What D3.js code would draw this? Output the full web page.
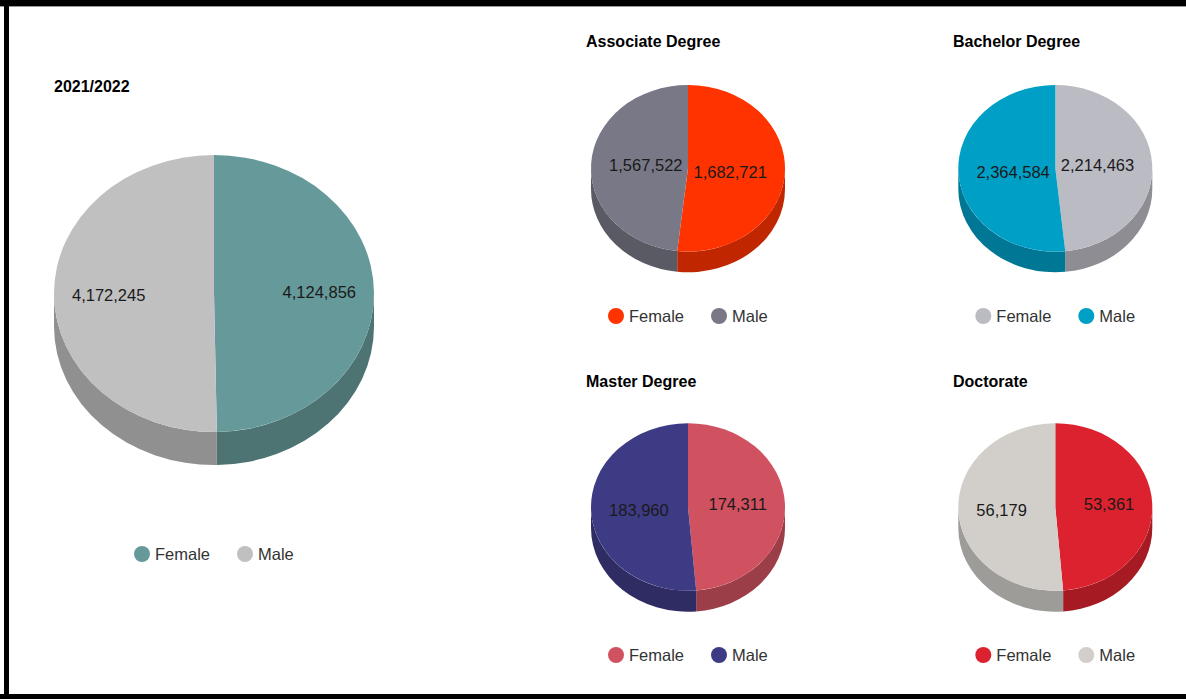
<!DOCTYPE html>
<html>
<head>
<meta charset="utf-8">
<script src="https://cdn.jsdelivr.net/npm/d3@7"></script>
<style>
  body { margin: 0; background: #fff; }
  svg { display: block; font-family: "Liberation Sans", Arial, sans-serif; }
</style>
</head>
<body>
<div id="chart"></div>
<script>
// data
const groups = ["2021/2022", "Associate Degree", "Bachelor Degree", "Master Degree", "Doctorate"];
const genders = ["Female", "Male"];
const femaleValues = [4124856, 1682721, 2214463, 174311, 53361];
const maleValues = [4172245, 1567522, 2364584, 183960, 56179];

// palette per chart: [female, male]
const femaleColors = ["#669999", "#ff3300", "#bbbbc4", "#d05260", "#dc222e"];
const maleColors = ["#c0c0c0", "#787887", "#00a0c6", "#3e3b85", "#d2cfcb"];

// where each pie sits
var layout = [
    { cx: 214, cy: 293.5, rx: 160, ry: 138.5, depth: 33, tx: 54, ty: 92, ly: 554 },
    { cx: 688, cy: 168.3, rx: 97, ry: 83.3, depth: 20.7, tx: 586, ty: 47, ly: 316 },
    { cx: 1055.3, cy: 168.3, rx: 97, ry: 83.3, depth: 20.7, tx: 953, ty: 47, ly: 316 },
    { cx: 688, cy: 507, rx: 97, ry: 83.7, depth: 21, tx: 586, ty: 386.5, ly: 655 },
    { cx: 1055.3, cy: 507, rx: 97, ry: 83.7, depth: 21, tx: 953, ty: 386.5, ly: 655 }
];

var width = 1186, height = 699;

var svg = d3.select("#chart").append("svg")
    .attr("width", width)
    .attr("height", height);

// frame
svg.append("rect").attr("x", 0).attr("y", 0).attr("width", width).attr("height", 6).attr("fill", "#000");
svg.append("rect").attr("x", 0).attr("y", 6).attr("width", width).attr("height", 1).attr("fill", "#9a9a9a");
svg.append("rect").attr("x", 4).attr("y", 0).attr("width", 5).attr("height", height).attr("fill", "#000");
svg.append("rect").attr("x", 0).attr("y", 694).attr("width", width).attr("height", 5).attr("fill", "#000");

var pie = d3.pie().sort(null).value(d => d.value);
var fmt = d3.format(",");

groups.forEach(function(name, i) {
    var L = layout[i];
    var data = [
        { key: genders[0], value: femaleValues[i], color: femaleColors[i] },
        { key: genders[1], value: maleValues[i], color: maleColors[i] }
    ];
    var arcs = pie(data);

    function P(a, dy) {
        return [L.cx + L.rx * Math.sin(a), L.cy - L.ry * Math.cos(a) + (dy || 0)];
    }

    var g = svg.append("g");

    // title
    g.append("text")
        .attr("x", L.tx)
        .attr("y", L.ty)
        .attr("font-size", "16px")
        .attr("font-weight", "bold")
        .attr("fill", "#000")
        .text(name);

    // side walls (front half only)
    arcs.forEach(function(d) {
        var s0 = Math.max(d.startAngle, Math.PI / 2),
            s1 = Math.min(d.endAngle, 3 * Math.PI / 2);
        if (s0 >= s1) return;
        var p0 = P(s0), p1 = P(s1), q1 = P(s1, L.depth), q0 = P(s0, L.depth);
        var path = "M" + p0 + " A" + L.rx + "," + L.ry + " 0 0 1 " + p1 +
            " L" + q1 + " A" + L.rx + "," + L.ry + " 0 0 0 " + q0 + " Z";
        g.append("path")
            .attr("d", path)
            .attr("fill", d3.color(d.data.color).darker(0.8));
    });

    // top faces
    arcs.forEach(function(d) {
        var p0 = P(d.startAngle), p1 = P(d.endAngle);
        var large = (d.endAngle - d.startAngle) > Math.PI ? 1 : 0;
        var path = "M" + L.cx + "," + L.cy + " L" + p0 + " A" + L.rx + "," + L.ry +
            " 0 " + large + " 1 " + p1 + " Z";
        g.append("path")
            .attr("d", path)
            .attr("fill", d.data.color);
    });

    // value labels, outer edge kept just inside the rim
    arcs.forEach(function(d) {
        var mid = (d.startAngle + d.endAngle) / 2;
        var lr = L.rx - 18;
        g.append("text")
            .attr("x", L.cx + lr * Math.sin(mid))
            .attr("y", L.cy - lr * (L.ry / L.rx) * Math.cos(mid))
            .attr("text-anchor", Math.sin(mid) > 0 ? "end" : "start")
            .attr("dominant-baseline", "central")
            .attr("font-size", "16.5px")
            .attr("fill", "#1a1a1a")
            .text(fmt(d.data.value));
    });

    // legend
    var x0 = L.cx - 72;
    data.forEach(function(d, j) {
        var lx = x0 + j * 103;
        g.append("circle")
            .attr("cx", lx)
            .attr("cy", L.ly)
            .attr("r", 8)
            .attr("fill", d.color);
        g.append("text")
            .attr("x", lx + 13)
            .attr("y", L.ly)
            .attr("dominant-baseline", "central")
            .attr("font-size", "16.5px")
            .attr("fill", "#333")
            .text(d.key);
    });
});
</script>
</body>
</html>
